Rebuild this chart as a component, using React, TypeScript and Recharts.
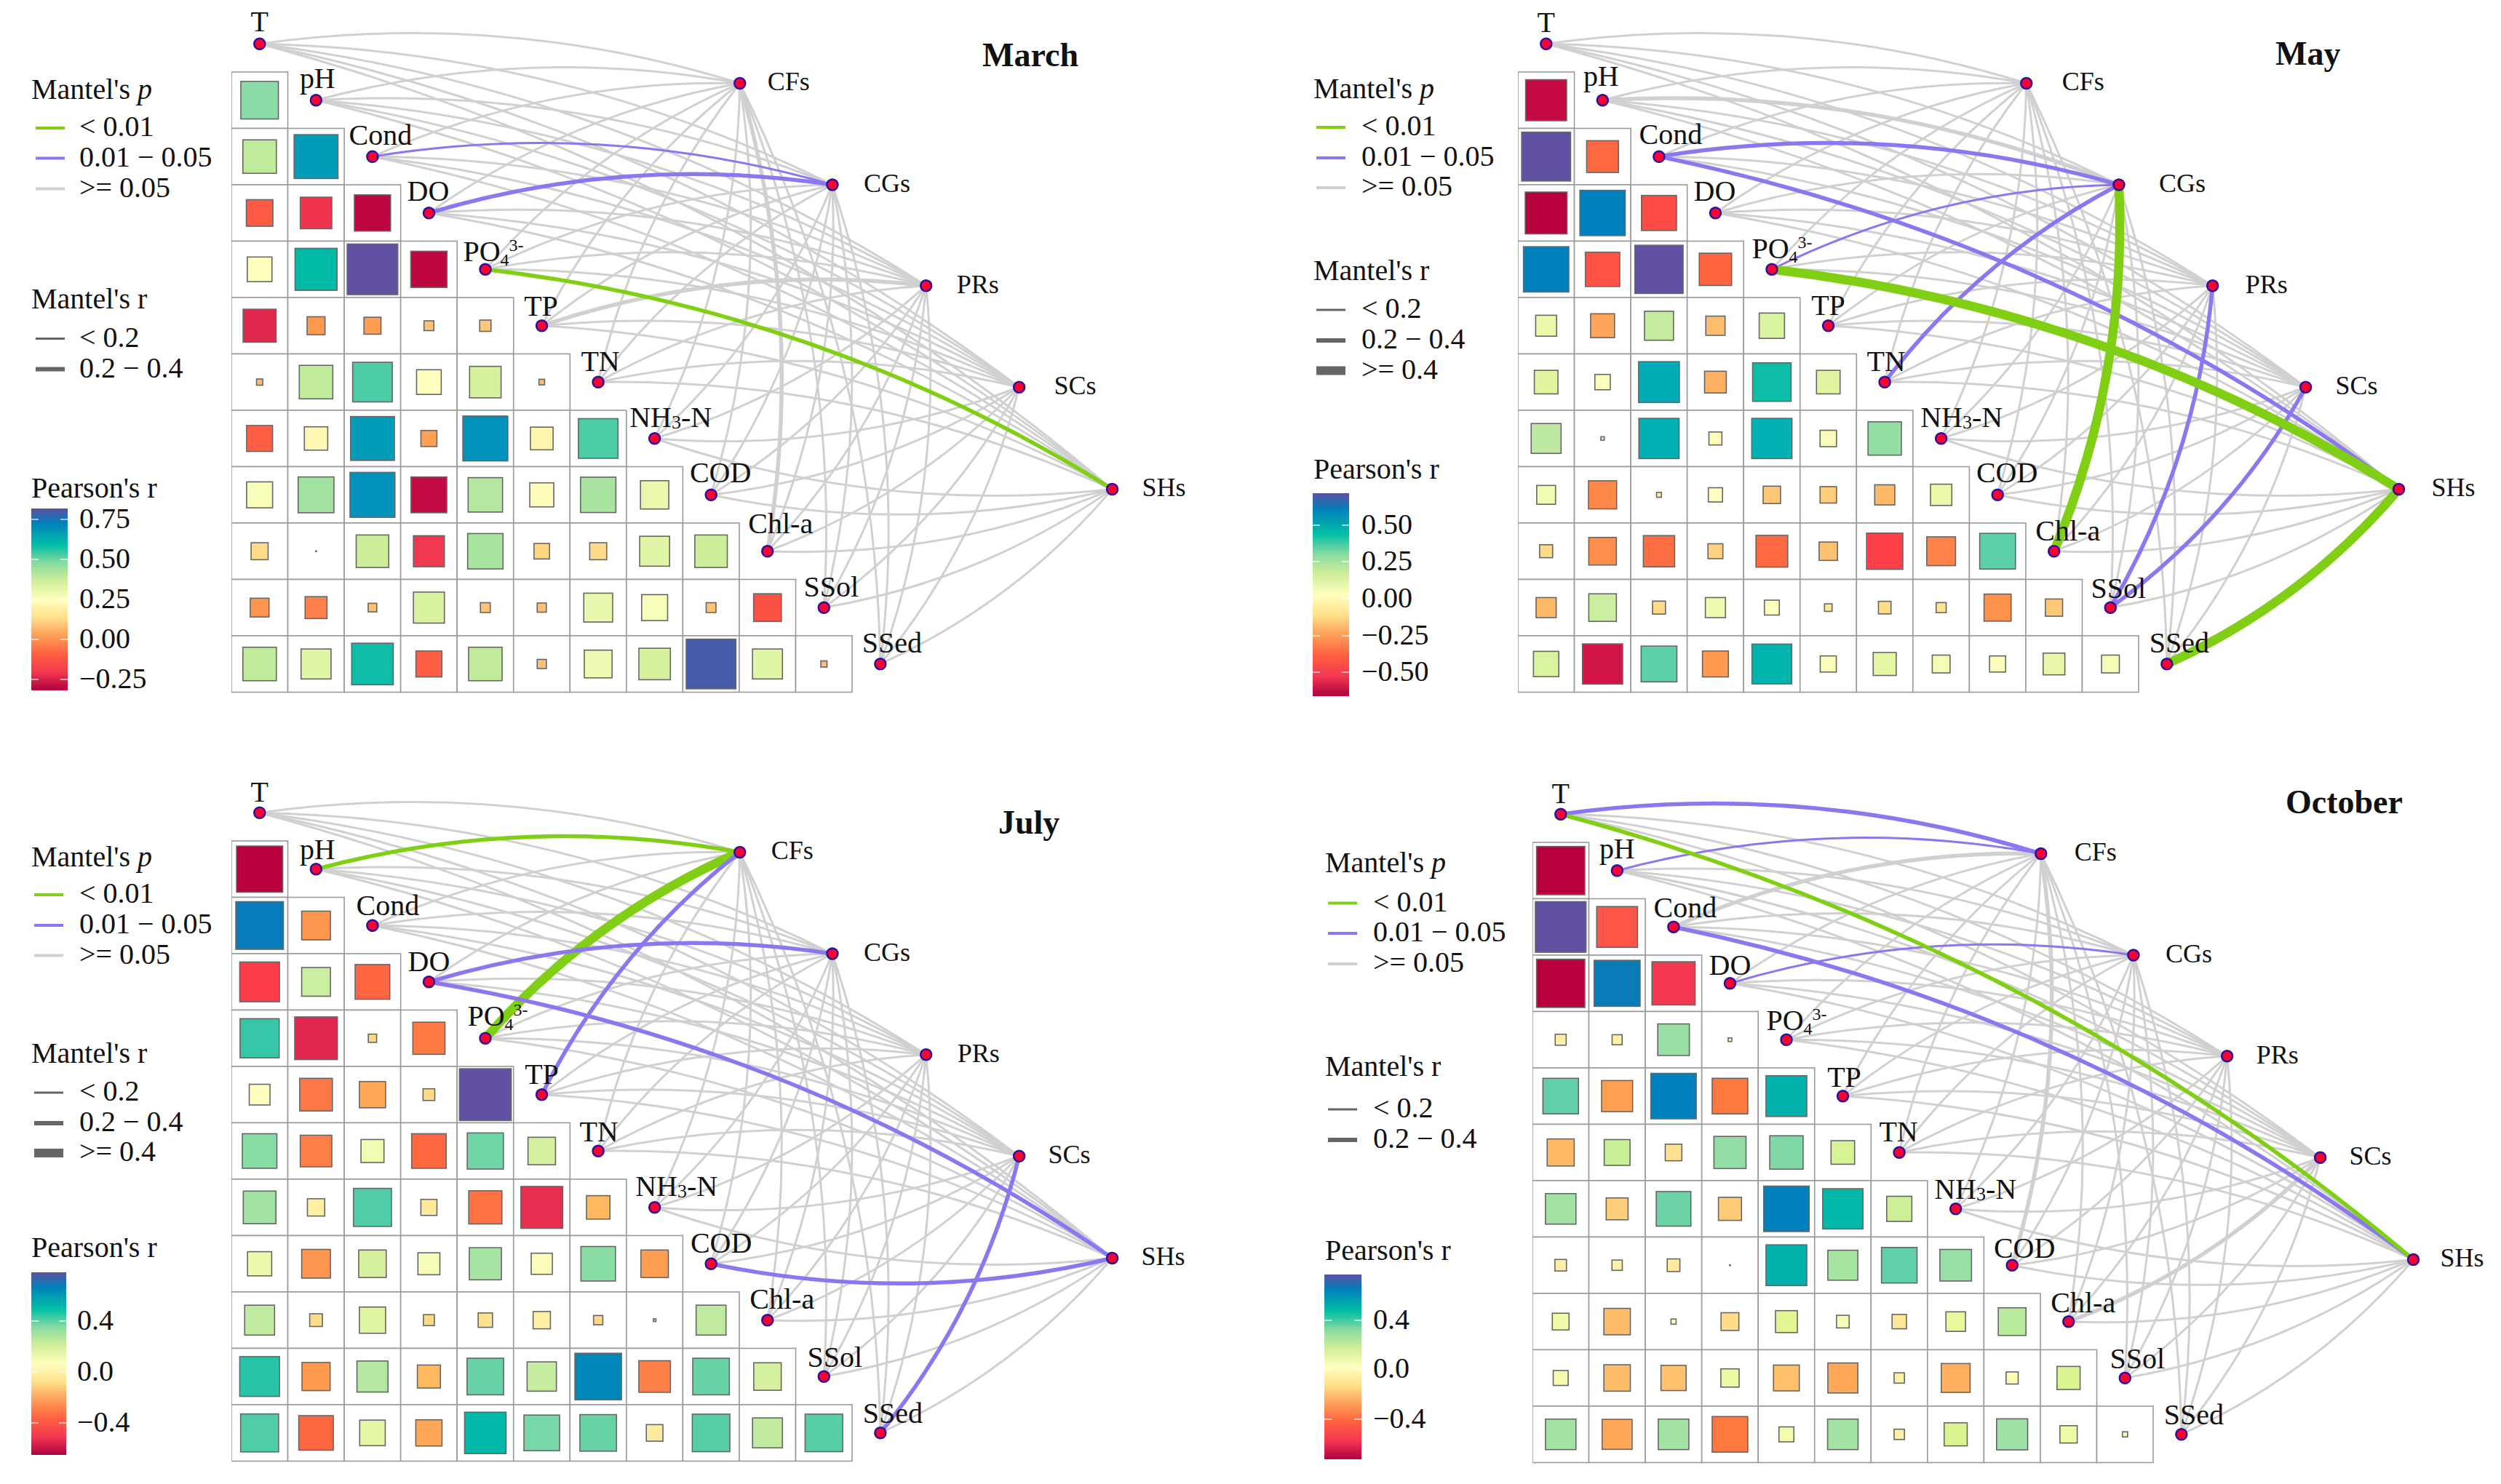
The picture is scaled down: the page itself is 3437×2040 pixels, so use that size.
import { ComposedChart, Line, Scatter, XAxis, YAxis } from "recharts";

const envNames = ["T", "pH", "Cond", "DO", "PO4", "TP", "TN", "NH3-N", "COD", "Chl-a", "SSol", "SSed"];
const speciesNames = ["CFs", "CGs", "PRs", "SCs", "SHs"];
const speciesX = [8.51, 10.15, 11.81, 13.46, 15.11];
const speciesY = [0.7, 2.5, 4.29, 6.09, 7.9];

const marchR = [
  [0.44],
  [0.35, 0.6],
  [-0.22, -0.31, -0.41],
  [0.19, 0.55, 0.8, -0.41],
  [-0.34, -0.1, -0.09, 0.03, 0.04],
  [0.012, 0.35, 0.49, 0.19, 0.31, 0.01],
  [-0.21, 0.17, 0.6, -0.08, 0.63, 0.16, 0.49],
  [0.21, 0.4, 0.63, -0.4, 0.37, 0.18, 0.39, 0.25],
  [0.09, 0.0002, 0.33, -0.3, 0.39, 0.075, 0.09, 0.28, 0.33],
  [-0.11, -0.15, 0.023, 0.3, 0.03, 0.026, 0.26, 0.21, 0.03, -0.24],
  [0.35, 0.28, 0.54, -0.21, 0.35, 0.026, 0.24, 0.31, 0.77, 0.28, 0.012],
];
const mayR = [
  [-0.5],
  [0.71, -0.3],
  [-0.52, 0.61, -0.365],
  [0.61, -0.35, 0.69, -0.31],
  [0.13, -0.17, 0.25, -0.11, 0.19],
  [0.165, 0.07, 0.495, -0.14, 0.44, 0.165],
  [0.265, 0.0035, 0.48, 0.05, 0.48, 0.08, 0.33],
  [0.105, -0.235, 0.007, 0.06, -0.09, -0.08, -0.12, 0.135],
  [-0.05, -0.226, -0.29, -0.066, -0.3, -0.1, -0.39, -0.246, 0.38],
  [-0.12, 0.226, -0.05, 0.12, 0.066, -0.017, -0.047, -0.03, -0.217, -0.088],
  [0.19, -0.48, 0.38, -0.2, 0.47, 0.077, 0.157, 0.094, 0.077, 0.14, 0.094],
];
const julyR = [
  [-0.62],
  [0.66, -0.24],
  [-0.46, 0.24, -0.35],
  [0.445, -0.53, 0.02, -0.3],
  [0.125, -0.31, -0.2, 0.04, 0.78],
  [0.347, -0.29, 0.154, -0.347, 0.38, 0.22],
  [0.31, 0.087, 0.42, 0.075, -0.32, -0.51, -0.16],
  [0.17, -0.24, 0.22, 0.14, 0.3, 0.13, 0.347, -0.22],
  [0.26, 0.047, 0.2, 0.035, 0.06, 0.087, 0.025, 0.002, 0.26],
  [0.46, -0.23, 0.28, -0.154, 0.39, 0.25, 0.63, -0.29, 0.39, 0.22],
  [0.42, -0.347, 0.19, -0.2, 0.5, 0.37, 0.39, 0.08, 0.41, 0.26, 0.41],
];
const octoberR = [
  [-0.7],
  [0.77, -0.5],
  [-0.7, 0.636, -0.56],
  [-0.036, -0.03, 0.3, 0.004],
  [0.38, -0.29, 0.62, -0.38, 0.5],
  [-0.22, 0.2, -0.083, 0.31, 0.335, 0.167],
  [0.28, -0.144, 0.36, -0.16, 0.62, 0.487, 0.19],
  [-0.04, -0.032, -0.048, 0.0002, 0.5, 0.27, 0.38, 0.3],
  [0.084, -0.21, 0.008, -0.095, 0.144, 0.048, -0.062, 0.115, 0.23],
  [0.067, -0.21, -0.19, 0.1, -0.2, -0.27, -0.032, -0.25, 0.044, 0.16],
  [0.28, -0.27, 0.28, -0.38, 0.067, 0.28, -0.032, 0.16, 0.29, 0.09, -0.008],
];

// env, species, Mantel p class, Mantel r class
type Link = [string, string, "low" | "mid" | "high", "small" | "medium" | "large"];
const marchLinks: Link[] = [
  ["TP", "PRs", "high", "medium"],
  ["Chl-a", "CFs", "high", "medium"],
  ["Cond", "CGs", "mid", "small"],
  ["DO", "CGs", "mid", "medium"],
  ["PO4", "SHs", "low", "medium"],
];
const mayLinks: Link[] = [
  ["pH", "CGs", "high", "medium"],
  ["Cond", "CGs", "mid", "medium"],
  ["Cond", "SHs", "mid", "medium"],
  ["PO4", "CGs", "mid", "small"],
  ["TN", "CGs", "mid", "medium"],
  ["SSol", "PRs", "mid", "medium"],
  ["SSol", "SCs", "mid", "medium"],
  ["PO4", "SHs", "low", "large"],
  ["Chl-a", "CGs", "low", "large"],
  ["SSed", "SHs", "low", "large"],
];
const julyLinks: Link[] = [
  ["pH", "CFs", "low", "medium"],
  ["PO4", "CFs", "low", "large"],
  ["TP", "CFs", "mid", "medium"],
  ["DO", "CGs", "mid", "medium"],
  ["DO", "SHs", "mid", "medium"],
  ["COD", "SHs", "mid", "medium"],
  ["SSed", "SCs", "mid", "medium"],
];
const octoberLinks: Link[] = [
  ["Cond", "CFs", "high", "medium"],
  ["COD", "CFs", "high", "medium"],
  ["Chl-a", "SCs", "high", "medium"],
  ["T", "CFs", "mid", "medium"],
  ["pH", "CFs", "mid", "small"],
  ["DO", "CGs", "mid", "small"],
  ["Cond", "SHs", "mid", "medium"],
  ["T", "SHs", "low", "medium"],
];

// colour of a square, as r -> colour pairs
type Stops = [number, string][];
const marchStops: Stops = [
  [-0.42, "#B8003E"], [-0.32, "#EE3050"], [-0.22, "#FF5A44"], [-0.1, "#FF9A50"], [0, "#FDB868"], [0.1, "#FEE08B"],
  [0.19, "#FFFFBF"], [0.32, "#D2F09A"], [0.44, "#8ADBA5"], [0.55, "#00BAA8"], [0.6, "#009CBA"], [0.68, "#0080BC"], [0.8, "#6150A4"],
];
const mayStops: Stops = [
  [-0.52, "#B8003E"], [-0.47, "#D8184A"], [-0.39, "#FF4048"], [-0.3, "#FF6840"], [-0.2, "#FF9A50"], [-0.12, "#FDB868"], [-0.04, "#FEE08B"],
  [0.06, "#FFFFBF"], [0.17, "#E0F5A0"], [0.26, "#C0EAA0"], [0.34, "#90DDA5"], [0.45, "#00BAA8"], [0.5, "#00AAB8"], [0.61, "#0080BC"], [0.68, "#6150A4"],
];
const julyStops: Stops = [
  [-0.62, "#B8003E"], [-0.52, "#E42A50"], [-0.45, "#FF4048"], [-0.34, "#FF6A40"], [-0.23, "#FF9A50"], [-0.16, "#FFB860"], [0.05, "#FEDC88"],
  [0.12, "#FFFFBF"], [0.2, "#E0F5A0"], [0.26, "#C0EAA0"], [0.35, "#88DBA5"], [0.42, "#50CCA8"], [0.5, "#00B8A8"], [0.65, "#0080BC"], [0.78, "#6150A4"],
];
const octoberStops: Stops = [
  [-0.7, "#B8003E"], [-0.56, "#F43850"], [-0.5, "#FF5448"], [-0.38, "#FF7840"], [-0.27, "#FFA858"], [-0.21, "#FFBC68"], [-0.1, "#FEDC88"],
  [0.02, "#FFFFBF"], [0.15, "#E0F590"], [0.25, "#B0E8A0"], [0.3, "#98DFA5"], [0.38, "#60D0A8"], [0.487, "#00B8A8"], [0.52, "#00AAB0"], [0.62, "#0080BC"], [0.77, "#6150A4"],
];

const marchTicks = ["0.75", "0.50", "0.25", "0.00", "−0.25"];
const mayTicks = ["0.50", "0.25", "0.00", "−0.25", "−0.50"];
const julyTicks = ["0.4", "0.0", "−0.4"];
const octoberTicks = ["0.4", "0.0", "−0.4"];

const barColors = [
  [0, "#5E4FA2"], [0.08, "#0080BC"], [0.2, "#00BFA5"], [0.3, "#88DBA0"], [0.4, "#D0EE98"], [0.5, "#FFFFBF"],
  [0.6, "#FEE08B"], [0.7, "#FD9E58"], [0.8, "#FF6040"], [0.9, "#F43850"], [1, "#B0003E"],
];

const UNIT = 77.55;
const FONT = "'Liberation Serif', serif";
const linkColor = { low: "#80CF14", mid: "#8B78F0", high: "#D0D0D0" };
const linkWidth = { small: 3, medium: 5.5, large: 12.5 };
const pRows = [["< 0.01", "#80CF14"], ["0.01 − 0.05", "#8B78F0"], [">= 0.05", "#D0D0D0"]];
const rRows = [["< 0.2", 3.2], ["0.2 − 0.4", 6], [">= 0.4", 12]];

function hexToRgb(hex: string) {
  return [1, 3, 5].map((i) => parseInt(hex.slice(i, i + 2), 16));
}

function colorOf(r: number, stops: Stops) {
  if (r <= stops[0][0]) return stops[0][1];
  for (let i = 1; i < stops.length; i++) {
    if (r <= stops[i][0]) {
      const t = (r - stops[i - 1][0]) / (stops[i][0] - stops[i - 1][0]);
      const a = hexToRgb(stops[i - 1][1]);
      const b = hexToRgb(stops[i][1]);
      return `rgb(${a.map((v, k) => Math.round(v + (b[k] - v) * t)).join(",")})`;
    }
  }
  return stops[stops.length - 1][1];
}

// d3 curve factory: one quadratic arc between the two points of a link
const arcCurve = (bend: number) => (context: any) => {
  let last: number[] | null = null;
  return {
    areaStart() {},
    areaEnd() {},
    lineStart() {
      last = null;
    },
    lineEnd() {},
    point(x: number, y: number) {
      if (!last) {
        context.moveTo(x, y);
      } else {
        const dx = x - last[0];
        const dy = y - last[1];
        context.quadraticCurveTo((x + last[0]) / 2 + bend * dy, (y + last[1]) / 2 - bend * dx, x, y);
      }
      last = [x, y];
    },
  };
};

function EnvLabel({ name, x, y }: { name: string; x: number; y: number }) {
  const common = { x, y, textAnchor: "middle" as const, fontFamily: FONT, fontSize: 40, fill: "#111" };
  if (name === "PO4") {
    return (
      <text {...common}>
        PO
        <tspan fontSize={24} dy={6}>4</tspan>
        <tspan fontSize={24} dy={-20}>3-</tspan>
      </text>
    );
  }
  if (name === "NH3-N") {
    return (
      <text {...common}>
        NH
        <tspan fontSize={26} dy={2}>3</tspan>
        <tspan dy={-2}>-N</tspan>
      </text>
    );
  }
  return <text {...common}>{name}</text>;
}

function Panel({ left, top, rows, stops, links, wmax, envDx, envDy, spDx }: any) {
  const rmax = Math.max(...rows.flat().map((v: number) => Math.abs(v)));
  const cells = rows.flatMap((row: number[], i: number) => row.map((r, c) => ({ x: c, y: i + 1, r })));
  const envNodes = envNames.map((name, i) => ({ x: i, y: i, name, dx: envDx[i], dy: envDy[i] }));
  const spNodes = speciesNames.map((name, i) => ({ x: speciesX[i], y: speciesY[i], name, dx: spDx[i] }));
  const extras = new Map(links.map((l: Link) => [`${l[0]}|${l[1]}`, l]));
  const plain = envNames.flatMap((e) => speciesNames.filter((s) => !extras.has(`${e}|${s}`)).map((s) => [e, s, "high", "small"] as Link));
  const allLinks: Link[] = [...plain, ...links];

  const drawCell = (p: any) => {
    const side = (wmax / 1.2645) * Math.sqrt(Math.abs(p.payload.r) / rmax);
    return (
      <g>
        <rect x={p.cx - UNIT / 2} y={p.cy - UNIT / 2} width={UNIT} height={UNIT} fill="#fff" stroke="#9a9a9a" strokeWidth={1.6} />
        <rect x={p.cx - side / 2} y={p.cy - side / 2} width={side} height={side} fill={colorOf(p.payload.r, stops)} stroke="#666" strokeWidth={1.6} />
      </g>
    );
  };
  const drawEnv = (p: any) => (
    <g>
      <circle cx={p.cx} cy={p.cy} r={7.5} fill="#FF0033" stroke="#2A0E9C" strokeWidth={2.5} />
      <EnvLabel name={p.payload.name} x={p.cx + p.payload.dx} y={p.cy + p.payload.dy} />
    </g>
  );
  const drawSpecies = (p: any) => (
    <g>
      <circle cx={p.cx} cy={p.cy} r={7.5} fill="#FF0033" stroke="#2A0E9C" strokeWidth={2.5} />
      <text x={p.cx + p.payload.dx} y={p.cy + 10} fontFamily={FONT} fontSize={36} fill="#111">{p.payload.name}</text>
    </g>
  );

  return (
    <div style={{ position: "absolute", left, top: top - 93 }}>
      <ComposedChart width={17.3 * UNIT} height={12.3 * 77.5} margin={{ top: 0, right: 0, bottom: 0, left: 0 }} style={{ overflow: "visible" }}>
        <XAxis hide type="number" dataKey="x" domain={[-0.5, 16.8]} allowDataOverflow />
        <YAxis hide reversed type="number" dataKey="y" domain={[-0.7, 11.6]} allowDataOverflow />
        <Scatter data={cells} dataKey="y" isAnimationActive={false} shape={drawCell} />
        {allLinks.map(([e, s, p, r]) => {
          const i = envNames.indexOf(e);
          const j = speciesNames.indexOf(s);
          return (
            <Line
              key={`${e}-${s}`}
              data={[{ x: i, y: i }, { x: speciesX[j], y: speciesY[j] }]}
              dataKey="y"
              type={arcCurve(i <= 6 ? 0.112 : -0.112) as any}
              stroke={linkColor[p]}
              strokeWidth={linkWidth[r]}
              dot={false}
              activeDot={false}
              isAnimationActive={false}
            />
          );
        })}
        <Scatter data={envNodes} dataKey="y" isAnimationActive={false} shape={drawEnv} />
        <Scatter data={spNodes} dataKey="y" isAnimationActive={false} shape={drawSpecies} />
      </ComposedChart>
    </div>
  );
}

function Legend({ id, g }: any) {
  const text = { fontFamily: FONT, fontSize: 40, fill: "#111" };
  return (
    <g>
      <text x={g.titleX} y={g.pTitle} {...text}>
        Mantel's <tspan fontStyle="italic">p</tspan>
      </text>
      {pRows.map(([label, color], i) => (
        <g key={String(label)}>
          <line x1={g.lineX} x2={g.lineX + 40} y1={g.pY[i]} y2={g.pY[i]} stroke={String(color)} strokeWidth={4} />
          <text x={g.textX} y={g.pY[i] + 11} {...text}>{label}</text>
        </g>
      ))}
      <text x={g.titleX} y={g.rTitle} {...text}>Mantel's r</text>
      {g.rY.map((y: number, i: number) => (
        <g key={i}>
          <line x1={g.lineX} x2={g.lineX + 40} y1={y} y2={y} stroke="#666" strokeWidth={Number(rRows[i][1])} />
          <text x={g.textX} y={y + 11} {...text}>{rRows[i][0]}</text>
        </g>
      ))}
      <text x={g.titleX} y={g.barTitle} {...text}>Pearson's r</text>
      <defs>
        <linearGradient id={id} x1="0" y1="0" x2="0" y2="1">
          {barColors.map(([o, c]) => (
            <stop key={String(o)} offset={Number(o)} stopColor={String(c)} />
          ))}
        </linearGradient>
      </defs>
      <rect x={g.barX} y={g.barY} width={g.barW} height={g.barH} fill={`url(#${id})`} />
      {g.ticks.map((t: string, i: number) => (
        <g key={t}>
          <line x1={g.barX} x2={g.barX + 10} y1={g.tickY[i]} y2={g.tickY[i]} stroke="#fff" strokeWidth={1.2} />
          <line x1={g.barX + g.barW - 10} x2={g.barX + g.barW} y1={g.tickY[i]} y2={g.tickY[i]} stroke="#fff" strokeWidth={1.2} />
          <text x={g.tickX} y={g.tickY[i] + 12} {...text}>{t}</text>
        </g>
      ))}
    </g>
  );
}

const legends = {
  march: { titleX: 43, lineX: 49, textX: 109, pTitle: 136, pY: [176, 217.5, 259.6], rTitle: 424, rY: [465.5, 507.6], barTitle: 684, barX: 43, barY: 699, barW: 50, barH: 250, tickX: 109, tickY: [714, 769, 824, 879, 934], ticks: marchTicks },
  may: { titleX: 1805, lineX: 1809, textX: 1871, pTitle: 134.6, pY: [175, 217, 258], rTitle: 384.6, rY: [426, 468, 509.6], barTitle: 657.5, barX: 1804, barY: 678, barW: 50, barH: 279, tickX: 1871, tickY: [722, 772, 823, 874, 924], ticks: mayTicks },
  july: { titleX: 43, lineX: 47, textX: 109, pTitle: 1190.5, pY: [1230, 1272, 1313.6], rTitle: 1461, rY: [1502, 1544, 1585], barTitle: 1727.5, barX: 43, barY: 1749, barW: 48, barH: 251, tickX: 106, tickY: [1816, 1886, 1956], ticks: julyTicks },
  october: { titleX: 1821, lineX: 1825, textX: 1887, pTitle: 1199.4, pY: [1241.5, 1283, 1325], rTitle: 1479, rY: [1525, 1567], barTitle: 1732, barX: 1820, barY: 1752, barW: 51, barH: 254, tickX: 1887, tickY: [1815, 1882, 1951], ticks: octoberTicks },
};

const titles = [
  ["March", 1350, 91],
  ["May", 3127, 89],
  ["July", 1372, 1146],
  ["October", 3141, 1118],
];

export default function App() {
  return (
    <div style={{ position: "absolute", left: 0, top: 0, width: 3437, height: 2040, background: "#fff", overflow: "hidden" }}>
      <Panel left={318} top={99} rows={marchR} stops={marchStops} links={marchLinks} wmax={88}
        envDx={[0, 2, 11, -1, 11, -1, 3, 22, 13, 18, 10, 16]} envDy={[-17, -17, -16, -17, -11, -14, -15, -16, -17, -25, -15, -16]} spDx={[38, 43, 42, 48, 41]} />
      <Panel left={2086} top={99} rows={mayR} stops={mayStops} links={mayLinks} wmax={85}
        envDx={[0, -2, 16, -1, 14, 0, 2, 28, 13, 19, 11, 17]} envDy={[-16, -20, -17, -17, -15, -15, -15, -16, -17, -15, -13, -16]} spDx={[49, 55, 45, 41, 45]} />
      <Panel left={318} top={1155.5} rows={julyR} stops={julyStops} links={julyLinks} wmax={90}
        envDx={[0, 2, 21, 0, 17, 0, 1, 30, 14, 20, 15, 17]} envDy={[-15, -14, -14, -15, -17, -15, -13, -16, -15, -16, -13, -14]} spDx={[43, 43, 43, 40, 40]} />
      <Panel left={2105.5} top={1158} rows={octoberR} stops={octoberStops} links={octoberLinks} wmax={88}
        envDx={[0, 0, 16, 0, 14, 2, -1, 27, 17, 20, 17, 17]} envDy={[-15, -17, -13, -12, -13, -13, -15, -14, -10, -13, -13, -14]} spDx={[46, 44, 40, 40, 37]} />
      <svg width={3437} height={2040} style={{ position: "absolute", left: 0, top: 0, pointerEvents: "none" }}>
        <Legend id="barMarch" g={legends.march} />
        <Legend id="barMay" g={legends.may} />
        <Legend id="barJuly" g={legends.july} />
        <Legend id="barOctober" g={legends.october} />
        {titles.map(([t, x, y]) => (
          <text key={String(t)} x={Number(x)} y={Number(y)} fontFamily={FONT} fontWeight="bold" fontSize={46} fill="#111">{t}</text>
        ))}
      </svg>
    </div>
  );
}
